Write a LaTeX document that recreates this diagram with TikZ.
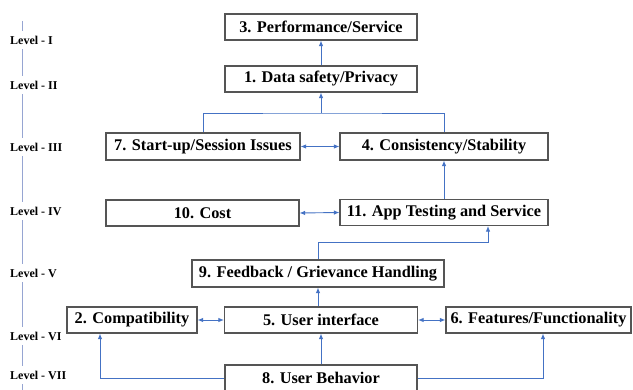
\documentclass[tikz,border=0pt]{standalone}
\usepackage{fontspec}
\setmainfont{Liberation Serif}[BoldFont={Liberation Serif Bold}]
\newfontfamily\tnrb{Liberation Serif Bold}
\usetikzlibrary{arrows.meta}
\definecolor{boxline}{RGB}{85,85,85}
\definecolor{conn}{RGB}{68,114,196}
\definecolor{lvline}{RGB}{150,165,210}
\begin{document}
\begin{tikzpicture}[x=1pt,y=-1pt,
  box/.style={draw=boxline,line width=1.2pt,fill=white,inner sep=0pt,
    font=\fontsize{16.3}{19}\tnrb\selectfont,minimum height=26pt},
  lvl/.style={font=\fontsize{12}{14}\tnrb\selectfont,anchor=west,fill=white,inner xsep=0pt,inner ysep=5pt},
  arr/.style={draw=conn,line width=0.9pt,-{Latex[length=5.5pt,width=4.5pt]}},
  dbl/.style={draw=conn,line width=0.9pt,{Latex[length=5.5pt,width=4.5pt]}-{Latex[length=5.5pt,width=4.5pt]}}]
\useasboundingbox (0,0) rectangle (633,390);
\clip (0,0) rectangle (633,390);
\fill[white] (0,0) rectangle (633,390);
% level axis
\coordinate (ltop) at (22.6,21);
\coordinate (lbot) at (22.6,392);
\draw[lvline,line width=1pt] (ltop) -- (lbot);
\node[lvl] (L1) at (10,40) {Level - I};
\node[lvl] (L2) at (10,85) {Level - II};
\node[lvl] (L3) at (10,147) {Level - III};
\node[lvl] (L4) at (10,211) {Level - IV};
\node[lvl] (L5) at (10,273) {Level - V};
\node[lvl] (L6) at (10,336) {Level - VI};
\node[lvl] (L7) at (10,375) {Level - VII};
% boxes
\node[box,minimum width=192pt] (n3) at (321,27) {3. Performance/Service};
\node[box,minimum width=192pt] (n1) at (321,79) {1. Data safety/Privacy};
\node[box,minimum width=194pt,minimum height=27pt] (n7) at (203,146.5) {7. Start-up/Session Issues};
\node[box,minimum width=208pt,minimum height=27pt] (n4) at (444,146.5) {4. Consistency/Stability};
\node[box,minimum width=193pt] (n10) at (202.5,213) {10. Cost};
\node[box,minimum width=208pt] (n11) at (444,212.5) {11. App Testing and Service};
\node[box,minimum width=252pt,minimum height=27pt] (n9) at (318,273.5) {9. Feedback / Grievance Handling};
\node[box,minimum width=130pt] (n2) at (132,320) {2. Compatibility};
\node[box,minimum width=193pt] (n5) at (321,320) {5. User interface};
\node[box,minimum width=185pt] (n6) at (538.5,320) {6. Features/Functionality};
\node[box,minimum width=192pt] (n8) at (321,378) {8. User Behavior};
% connectors
\coordinate (j1) at (321,113);
\coordinate (j2) at (488,242);
\draw[arr] (n1.north) -- (n3.south);
\draw[conn,line width=0.9pt] (n7.north) |- (j1) -| (n4.north);
\draw[arr] (j1) -- (n1.south);
\draw[dbl] (n7.east) -- (n4.west);
\draw[arr] (n11.north) -- (n4.south);
\draw[dbl] (n10.east) -- (n11.west);
\draw[arr] (n9.north) |- (j2) -- (j2 |- n11.south);
\draw[arr] (n5.north -| n9) -- (n9.south);
\draw[dbl] (n2.east) -- (n5.west);
\draw[dbl] (n5.east) -- (n6.west);
\draw[arr] (n8.north) -- (n5.south);
\draw[arr] (n8.west) -| ([xshift=-32pt]n2.south);
\draw[arr] (n8.east) -| ([xshift=4.5pt]n6.south);
\end{tikzpicture}
\end{document}
